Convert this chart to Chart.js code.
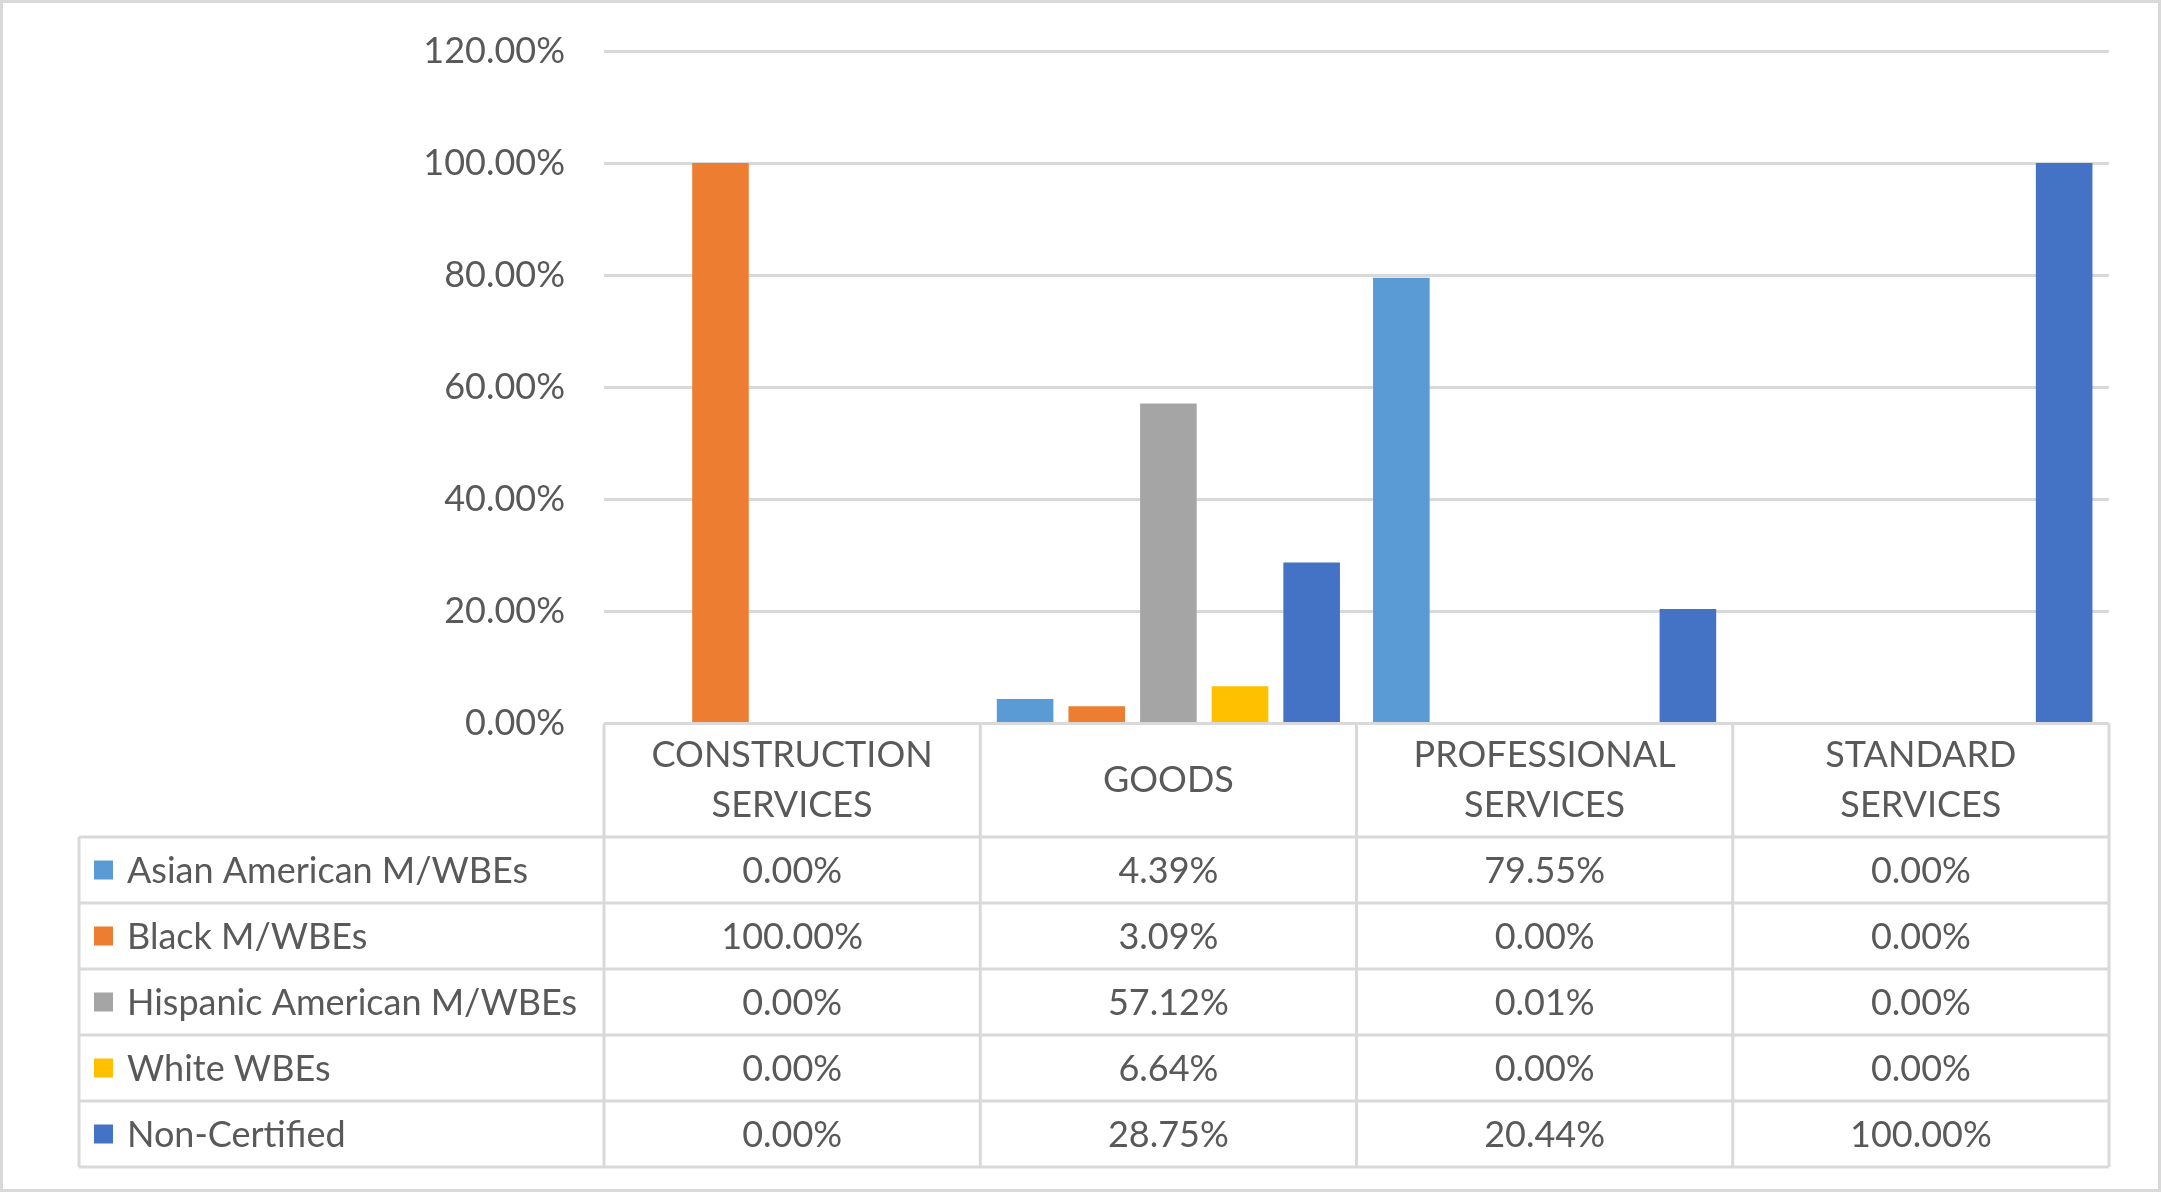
<!DOCTYPE html>
<html><head><meta charset="utf-8">
<script src="https://cdn.jsdelivr.net/npm/chart.js@4"></script>
<style>
html,body{margin:0;padding:0;background:#fff;overflow:hidden;}
#wrap{position:absolute;left:0;top:0;width:2161px;height:1192px;}
#frame{position:absolute;left:0;top:0;width:2161px;height:1192px;box-sizing:border-box;border:3px solid #D9D9D9;pointer-events:none;}
</style></head><body>
<div id="wrap"><canvas id="c"></canvas></div>
<div id="frame"></div>
<script>
const categories = [['CONSTRUCTION','SERVICES'],['GOODS'],['PROFESSIONAL','SERVICES'],['STANDARD','SERVICES']];
const seriesNames = ['Asian American M/WBEs','Black M/WBEs','Hispanic American M/WBEs','White WBEs','Non-Certified'];
const asianAmerican = [0.00, 4.39, 79.55, 0.00];
const black = [100.00, 3.09, 0.00, 0.00];
const hispanicAmerican = [0.00, 57.12, 0.01, 0.00];
const whiteWBEs = [0.00, 6.64, 0.00, 0.00];
const nonCertified = [0.00, 28.75, 20.44, 100.00];
const yTickValues = [0, 20, 40, 60, 80, 100, 120];
const seriesColors = ['#5B9BD5','#ED7D31','#A5A5A5','#FFC000','#4472C4'];

const seriesValues = [asianAmerican, black, hispanicAmerican, whiteWBEs, nonCertified];
const FONT = 'Lato';
const FSIZE = 36;
const TXT = '#595959';
const LINE = '#D9D9D9';
const fmt = v => v.toFixed(2) + '%';

const tablePlugin = {
  id: 'dataTable',
  afterDraw(chart) {
    const ctx = chart.ctx, xs = chart.scales.x, ca = chart.chartArea;
    const n = categories.length;
    const catW = (ca.right - ca.left) / n;
    const edges = [];
    for (let i = 0; i < n; i++) edges.push(xs.getPixelForValue(i) - catW / 2);
    edges.push(xs.getPixelForValue(n - 1) + catW / 2);
    const top = ca.bottom;
    const headerH = 113.5, rowH = 66;
    const legendLeft = 79;
    const bottom = top + headerH + rowH * seriesNames.length;
    ctx.save();
    ctx.strokeStyle = LINE;
    ctx.lineWidth = 3;
    ctx.beginPath();
    ctx.moveTo(edges[0], top); ctx.lineTo(edges[n], top);
    for (let k = 0; k <= seriesNames.length; k++) {
      const y = top + headerH + k * rowH;
      ctx.moveTo(legendLeft, y); ctx.lineTo(edges[n], y);
    }
    for (let i = 0; i <= n; i++) { ctx.moveTo(edges[i], top); ctx.lineTo(edges[i], bottom); }
    ctx.moveTo(legendLeft, top + headerH); ctx.lineTo(legendLeft, bottom);
    ctx.stroke();

    ctx.fillStyle = TXT;
    ctx.font = FSIZE + 'px ' + FONT;
    ctx.textAlign = 'center';
    ctx.textBaseline = 'middle';
    const lineGap = 50;
    for (let i = 0; i < n; i++) {
      const cx = xs.getPixelForValue(i);
      const lines = categories[i];
      const cy = top + headerH / 2;
      lines.forEach((t, j) => {
        ctx.fillText(t, cx, cy + (j - (lines.length - 1) / 2) * lineGap);
      });
    }
    seriesNames.forEach((name, s) => {
      const cy = top + headerH + s * rowH + rowH / 2;
      ctx.fillStyle = seriesColors[s];
      ctx.fillRect(94, cy - 9.5, 19, 19);
      ctx.fillStyle = TXT;
      ctx.textAlign = 'left';
      ctx.fillText(name, 127, cy + 1);
      ctx.textAlign = 'center';
      for (let i = 0; i < n; i++) {
        ctx.fillText(fmt(seriesValues[s][i]), xs.getPixelForValue(i), cy + 1);
      }
    });
    ctx.restore();
  }
};

new Chart(document.getElementById('c'), {
  type: 'bar',
  data: {
    labels: categories,
    datasets: seriesNames.map((name, s) => ({
      label: name,
      data: seriesValues[s],
      backgroundColor: seriesColors[s],
      categoryPercentage: 0.952,
      barPercentage: 0.79
    }))
  },
  options: {
    responsive: true,
    maintainAspectRatio: false,
    animation: false,
    devicePixelRatio: 1,
    layout: { padding: { left: 0, right: 52, top: 51, bottom: 468.5 } },
    plugins: { legend: { display: false }, tooltip: { enabled: false } },
    scales: {
      x: { display: false },
      y: {
        min: 0, max: 120,
        afterBuildTicks: (scale) => { scale.ticks = yTickValues.map(v => ({ value: v })); },
        afterFit: (scale) => { scale.width = 604; scale.paddingTop = 0; scale.paddingBottom = 0; },
        border: { display: false },
        grid: { color: LINE, lineWidth: 3, drawTicks: false },
        ticks: {
          padding: 39,
          color: TXT,
          font: { family: FONT, size: FSIZE },
          callback: v => fmt(v)
        }
      }
    }
  },
  plugins: [tablePlugin]
});
</script>
</body></html>
